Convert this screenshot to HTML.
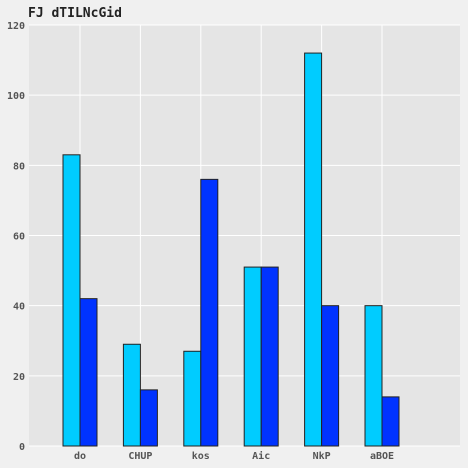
<!DOCTYPE html>
<html><head><style>
body{margin:0;background:#f0f0f0;}
svg{display:block;font-family:"DejaVu Sans Mono","Liberation Mono",monospace;}
</style></head><body>
<svg id="c" width="468" height="468">
<rect x="0" y="0" width="468" height="468" fill="#f0f0f0"/>
<text x="28" y="17" font-size="13" font-weight="bold" fill="#222">FJ dTILNcGid</text>
</svg>
<script>
const categories=["do","CHUP","kos","Aic","NkP","aBOE"];
const series1=[83,29,27,51,112,40];
const series2=[42,16,76,51,40,14];
const yTicks=[0,20,40,60,80,100,120];
const svg=document.getElementById('c');
const NS="http://www.w3.org/2000/svg";
const L=29,R=460,T=25,B=446,yMax=120;
const y=v=>B-(v/yMax)*(B-T);
const step=60.4, x0=80;
const x=i=>x0+i*step;
const bw=17;
function mk(t,a){const e=document.createElementNS(NS,t);for(const k in a)e.setAttribute(k,a[k]);svg.appendChild(e);return e;}
const plot=mk('rect',{x:L,y:T,width:R-L,height:B-T,fill:'#e5e5e5'});


yTicks.forEach(v=>{
 const g=mk('line',{x1:L,x2:R,y1:y(v),y2:y(v),stroke:'#fff','stroke-width':1});
 
 
 const t=mk('text',{x:L-4,y:y(v)+4,'font-size':10,'font-weight':'bold','text-anchor':'end',fill:'#555'});
 t.textContent=v;
 
 
});
categories.forEach((c,i)=>{
 const g=mk('line',{x1:x(i),x2:x(i),y1:T,y2:B,stroke:'#fff','stroke-width':1});
 
 
});
categories.forEach((c,i)=>{
 const b1=mk('rect',{x:x(i)-bw,y:y(series1[i]),width:bw,height:B-y(series1[i]),fill:'#00ccff',stroke:'#222','stroke-width':1});
 
 
 const b2=mk('rect',{x:x(i),y:y(series2[i]),width:bw,height:B-y(series2[i]),fill:'#0033ff',stroke:'#222','stroke-width':1});
 
 
 const t=mk('text',{x:x(i),y:B+13,'font-size':10,'font-weight':'bold','text-anchor':'middle',fill:'#555'});
 t.textContent=c;
 
 
});
</script>
</body></html>
